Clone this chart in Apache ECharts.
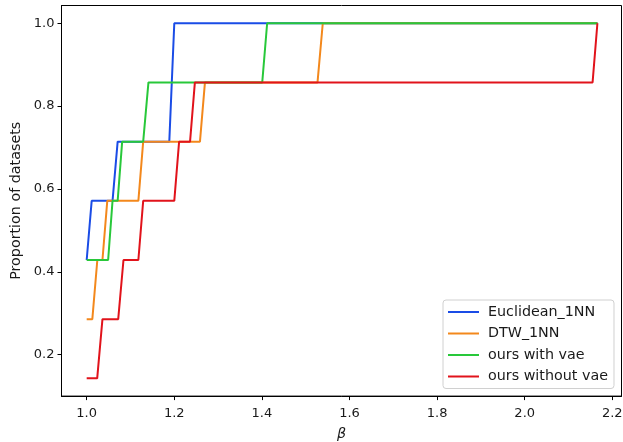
<!DOCTYPE html>
<html lang="en">

<head>
    <meta charset="utf-8">
    <script src="https://cdn.jsdelivr.net/npm/echarts@6/dist/echarts.min.js"></script>
    <style>
        html, body { margin: 0; padding: 0; background: #fff; }
    </style>
</head>

<body>
    <div id="main" style="width: 623px;height:442px;"></div>
    <script type="text/javascript">
    // values are k/7 (performance profile)
    var seriesNames = ['Euclidean_1NN', 'DTW_1NN', 'ours with vae', 'ours without vae'];
    var colors = ['#1a4ce6', '#f3881c', '#28c83a', '#e1131b'];
    var xTicks = [1.0, 1.2, 1.4, 1.6, 1.8, 2.0, 2.2];
    var yTicks = [0.2, 0.4, 0.6, 0.8, 1.0];

    var euclidX = [1.0, 1.0114, 1.059, 1.0707, 1.1886, 1.2, 2.166];
    var euclidY = [3/7, 4/7, 4/7, 5/7, 5/7, 1, 1];

    var dtwX = [1.0, 1.0129, 1.0243, 1.036, 1.047, 1.118, 1.129, 1.2586, 1.27, 1.527, 1.539, 2.166];
    var dtwY = [2/7, 2/7, 3/7, 3/7, 4/7, 4/7, 5/7, 5/7, 6/7, 6/7, 1, 1];

    var vaeX = [1.0, 1.049, 1.059, 1.0707, 1.081, 1.129, 1.141, 1.4008, 1.412, 2.166];
    var vaeY = [3/7, 3/7, 4/7, 4/7, 5/7, 5/7, 6/7, 6/7, 1, 1];

    var noVaeX = [1.0, 1.024, 1.036, 1.072, 1.084, 1.118, 1.129, 1.2, 1.211, 1.236, 1.247, 2.155, 2.166];
    var noVaeY = [1/7, 1/7, 2/7, 2/7, 3/7, 3/7, 4/7, 4/7, 5/7, 5/7, 6/7, 6/7, 1];

    function pairs(xs, ys) {
        return xs.map(function (x, i) { return [x, ys[i]]; });
    }
    var allData = [pairs(euclidX, euclidY), pairs(dtwX, dtwY), pairs(vaeX, vaeY), pairs(noVaeX, noVaeY)];

    var font = 'DejaVu Sans';
    var myChart = echarts.init(document.getElementById('main'));
    myChart.setOption({
        animation: false,
        backgroundColor: '#fff',
        textStyle: { fontFamily: font },
        grid: {
            left: 61.5, top: 5.5, width: 560, height: 390.6,
            show: true, borderColor: '#000', borderWidth: 1,
            containLabel: false, outerBoundsMode: 'none'
        },
        legend: {
            data: seriesNames,
            orient: 'vertical',
            left: 443, top: 300,
            padding: [4, 6, 4, 5],
            itemWidth: 31, itemHeight: 2, itemGap: 5.5,
            icon: 'rect',
            backgroundColor: '#fff',
            borderColor: '#d0d0d0', borderWidth: 1, borderRadius: 3,
            textStyle: { fontFamily: font, fontSize: 14.3, color: '#1a1a1a', padding: [0, 0, 0, 4], lineHeight: 16 }
        },
        xAxis: {
            type: 'value',
            min: 0.9425, max: 2.221,
            name: 'β',
            nameLocation: 'middle',
            nameGap: 31,
            nameTextStyle: { fontFamily: font, fontSize: 14.3, fontStyle: 'italic', color: '#1a1a1a' },
            axisLine: { show: true, onZero: false, lineStyle: { color: '#000' } },
            axisTick: { show: true, length: 4, lineStyle: { color: '#000' }, customValues: xTicks },
            axisLabel: {
                fontFamily: font, fontSize: 13, color: '#1a1a1a', margin: 11,
                customValues: xTicks,
                formatter: function (v) { return v.toFixed(1); }
            },
            splitLine: { show: false }
        },
        yAxis: {
            type: 'value',
            min: 0.1, max: 1.0429,
            name: 'Proportion of datasets',
            nameLocation: 'middle',
            nameGap: 38,
            nameTextStyle: { fontFamily: font, fontSize: 14.3, color: '#1a1a1a' },
            axisLine: { show: true, onZero: false, lineStyle: { color: '#000' } },
            axisTick: { show: true, length: 4, lineStyle: { color: '#000' }, customValues: yTicks },
            axisLabel: {
                fontFamily: font, fontSize: 13, color: '#1a1a1a', margin: 7,
                customValues: yTicks,
                formatter: function (v) { return v.toFixed(1); }
            },
            splitLine: { show: false }
        },
        series: seriesNames.map(function (name, i) {
            return {
                name: name,
                type: 'line',
                data: allData[i],
                showSymbol: false,
                symbol: 'none',
                color: colors[i],
                lineStyle: { width: 2, color: colors[i] },
                itemStyle: { color: colors[i] },
                z: 2 + i
            };
        })
    });
    </script>
</body>

</html>
